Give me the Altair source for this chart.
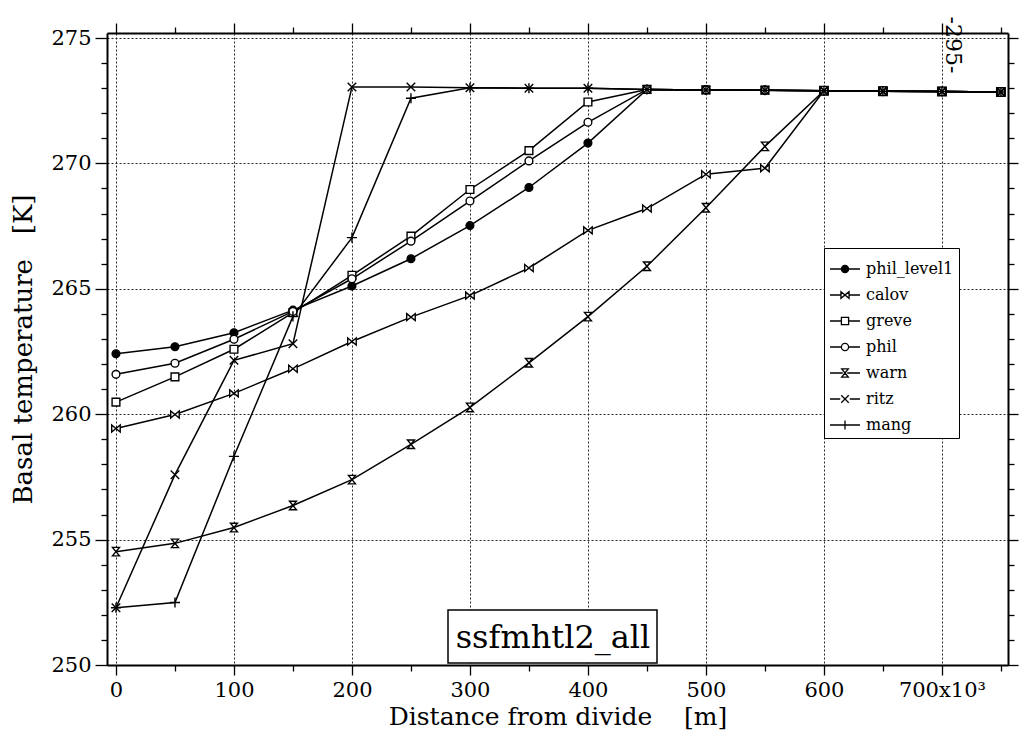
import altair as alt
import pandas as pd

# ---------------- data ----------------
distance_km = [0, 50, 100, 150, 200, 250, 300, 350, 400, 450, 500, 550, 600, 650, 700, 750]
series_names = ["phil_level1", "calov", "greve", "phil", "warn", "ritz", "mang"]

phil_level1 = [262.41, 262.69, 263.25, 264.15, 265.11, 266.20, 267.52, 269.04, 270.81, 272.95, 272.93, 272.92, 272.90, 272.88, 272.87, 272.85]
calov       = [259.43, 259.99, 260.83, 261.81, 262.90, 263.87, 264.73, 265.83, 267.33, 268.20, 269.57, 269.81, 272.90, 272.88, 272.87, 272.85]
greve       = [260.48, 261.49, 262.59, 264.05, 265.54, 267.10, 268.96, 270.51, 272.45, 272.95, 272.93, 272.92, 272.90, 272.88, 272.87, 272.85]
phil        = [261.59, 262.03, 262.99, 264.10, 265.40, 266.90, 268.50, 270.10, 271.64, 272.95, 272.93, 272.92, 272.90, 272.88, 272.87, 272.85]
warn        = [254.52, 254.85, 255.48, 256.36, 257.39, 258.80, 260.27, 262.05, 263.89, 265.90, 268.23, 270.68, 272.90, 272.88, 272.87, 272.85]
ritz        = [252.28, 257.59, 262.15, 262.81, 273.05, 273.05, 273.02, 273.00, 273.00, 272.95, 272.93, 272.92, 272.90, 272.88, 272.87, 272.85]
mang        = [252.28, 252.49, 258.32, 263.90, 267.04, 272.60, 273.02, 273.00, 273.00, 272.95, 272.93, 272.92, 272.90, 272.88, 272.87, 272.85]

series_values = [phil_level1, calov, greve, phil, warn, ritz, mang]

x_tick_values = [0, 50000, 100000, 150000, 200000, 250000, 300000, 350000, 400000,
                 450000, 500000, 550000, 600000, 650000, 700000, 750000]
y_tick_values = list(range(250, 276))

annotation_label = ["ssfmhtl2_all"]
page_label = ["-295-"]

# ---------------- table ----------------
rows = []
for name, vals in zip(series_names, series_values):
    for d, v in zip(distance_km, vals):
        rows.append({"series": name, "series_leg": name, "distance": d * 1000, "temp": v})
df = pd.DataFrame(rows)

FONT = "DejaVu Serif"
NB = "\u00a0"
W, H = 901, 632

x_scale = alt.Scale(domain=[-7600, 756000], nice=False, zero=False)
y_scale = alt.Scale(domain=[250, 275.2], nice=False, zero=False)

x_major = "datum.value % 100000 == 0"
y_major = "datum.value % 5 == 0"

x_axis_bottom = alt.Axis(
    orient="bottom", values=x_tick_values, title="Distance from divide" + NB * 4 + "[m]",
    labelExpr="datum.value == 700000 ? '700x10³' : (datum.value % 100000 == 0 ? format(datum.value / 1000, 'd') : '')",
    labelOverlap=False, labelFont=FONT, labelFontSize=21, labelColor="black", labelPadding=4,
    titleFont=FONT, titleFontSize=25, titleFontWeight="normal", titleColor="black", titlePadding=4,
    tickSize={"condition": {"test": x_major, "value": 10}, "value": 6},
    tickColor="black", tickWidth=1.3,
    grid=True, gridColor="#222", gridDash=[2, 2], gridWidth=1,
    gridOpacity={"condition": {"test": x_major, "value": 1}, "value": 0},
    domainColor="black", domainWidth=2,
)
y_axis_left = alt.Axis(
    orient="left", values=y_tick_values, title="Basal temperature" + NB * 3 + "[K]",
    labelExpr="datum.value % 5 == 0 ? format(datum.value, 'd') : ''",
    labelOverlap=False, labelFont=FONT, labelFontSize=21, labelColor="black", labelPadding=4,
    titleFont=FONT, titleFontSize=26, titleFontWeight="normal", titleColor="black", titlePadding=14,
    tickSize={"condition": {"test": y_major, "value": 12}, "value": 6},
    tickColor="black", tickWidth=1.3,
    grid=True, gridColor="#222", gridDash=[2, 2], gridWidth=1,
    gridOpacity={"condition": {"test": y_major, "value": 1}, "value": 0},
    domainColor="black", domainWidth=2,
)
x_axis_top = alt.Axis(
    orient="top", values=x_tick_values, title=None, labels=False, grid=False,
    tickSize={"condition": {"test": x_major, "value": 10}, "value": 6},
    tickColor="black", tickWidth=1.3, domainColor="black", domainWidth=2,
)
y_axis_right = alt.Axis(
    orient="right", values=y_tick_values, title=None, labels=False, grid=False,
    tickSize={"condition": {"test": y_major, "value": 10}, "value": 6},
    tickColor="black", tickWidth=1.3, domainColor="black", domainWidth=2,
)

circle = "M1,0 A1,1 0 1,1 -1,0 A1,1 0 1,1 1,0 Z"
plot_paths = [
    circle,                                         # phil_level1
    "M-1.1,-0.9 L1.1,0.9 L1.1,-0.9 L-1.1,0.9 Z",    # calov (bowtie)
    "M-1,-1 L1,-1 L1,1 L-1,1 Z",                    # greve
    circle,                                         # phil
    "M-0.9,-1.1 L0.9,-1.1 L-0.9,1.1 L0.9,1.1 Z",    # warn (hourglass)
    "M-1.1,-1.1 L1.1,1.1 M1.1,-1.1 L-1.1,1.1",      # ritz
    "M-1.3,0 L1.3,0 M0,-1.3 L0,1.3",                # mang
]
small_circle = "M0.24,0 A0.24,0.24 0 1,1 -0.24,0 A0.24,0.24 0 1,1 0.24,0 Z"
legend_paths = [
    "M-1,0 L-0.24,0 M0.24,0 L1,0 " + small_circle,
    "M-1,0 L-0.27,0 M0.27,0 L1,0 M-0.27,-0.22 L0.27,0.22 L0.27,-0.22 L-0.27,0.22 Z",
    "M-1,0 L-0.24,0 M0.24,0 L1,0 M-0.24,-0.24 L0.24,-0.24 L0.24,0.24 L-0.24,0.24 Z",
    "M-1,0 L-0.24,0 M0.24,0 L1,0 " + small_circle,
    "M-1,0 L-0.15,0 M0.15,0 L1,0 M-0.22,-0.27 L0.22,-0.27 L-0.22,0.27 L0.22,0.27 Z",
    "M-1,0 L-0.32,0 M0.32,0 L1,0 M-0.25,-0.25 L0.25,0.25 M0.25,-0.25 L-0.25,0.25",
    "M-1,0 L1,0 M0,-0.3 L0,0.3",
]
fills = ["black", "white", "white", "white", "white", "white", "white"]
strokes = ["black"] * 7

legend_props = dict(
    orient="none", legendX=717, legendY=215, title=None,
    labelFont=FONT, labelFontSize=16, labelColor="black", labelOffset=5,
    symbolSize=900, symbolStrokeColor="black", symbolStrokeWidth=1.3, symbolOpacity=1,
    strokeColor="black", fillColor="white", padding=5, rowPadding=2,
)

base = alt.Chart(df)

lines = base.mark_line(color="black", strokeWidth=1.5).encode(
    x=alt.X("distance:Q", scale=x_scale, axis=x_axis_bottom),
    y=alt.Y("temp:Q", scale=y_scale, axis=y_axis_left),
    detail="series:N",
)

points = base.mark_point(stroke="black", strokeWidth=1.4, opacity=1, size=60).encode(
    x=alt.X("distance:Q", scale=x_scale, axis=x_axis_top),
    y=alt.Y("temp:Q", scale=y_scale, axis=y_axis_right),
    shape=alt.Shape("series:N", scale=alt.Scale(domain=series_names, range=plot_paths), legend=None),
    fill=alt.Fill("series:N", scale=alt.Scale(domain=series_names, range=fills), legend=None),
)

legend_layer = base.mark_point(opacity=1, size=0, strokeWidth=0).encode(
    x=alt.X("distance:Q", scale=x_scale, axis=None),
    y=alt.Y("temp:Q", scale=y_scale, axis=None),
    shape=alt.Shape("series_leg:N", scale=alt.Scale(domain=series_names, range=legend_paths),
                    legend=alt.Legend(**legend_props)),
    fill=alt.Fill("series_leg:N", scale=alt.Scale(domain=series_names, range=fills),
                  legend=alt.Legend(**legend_props)),
    stroke=alt.Stroke("series_leg:N", scale=alt.Scale(domain=series_names, range=strokes),
                      legend=alt.Legend(**legend_props)),
)

ann_df = pd.DataFrame({"label": annotation_label})
ann_box = alt.Chart(ann_df).mark_rect(fill="white", stroke="black", strokeWidth=1.5).encode(
    x=alt.value(341), x2=alt.value(550), y=alt.value(577), y2=alt.value(630)
)
ann_text = alt.Chart(ann_df).mark_text(font=FONT, fontSize=32, color="black", align="center",
                                       baseline="alphabetic").encode(
    x=alt.value(446), y=alt.value(615), text="label:N"
)

page_df = pd.DataFrame({"label": page_label})
page_text = alt.Chart(page_df).mark_text(font=FONT, fontSize=22, color="black", angle=90,
                                         align="center", baseline="middle").encode(
    x=alt.value(846), y=alt.value(12), text="label:N"
)

chart = alt.layer(lines, points, legend_layer, ann_box, ann_text, page_text).resolve_scale(
    shape="independent", fill="independent", stroke="independent"
).resolve_axis(
    x="independent", y="independent"
).properties(
    width=W, height=H,
    autosize=alt.AutoSizeParams(type="none"),
    padding={"left": 99, "top": 25, "right": 16, "bottom": 75},
).configure_view(
    stroke="black", strokeWidth=2
).configure(background="white")

chart.save("out.html", embed_options={"renderer": "svg", "actions": False})
